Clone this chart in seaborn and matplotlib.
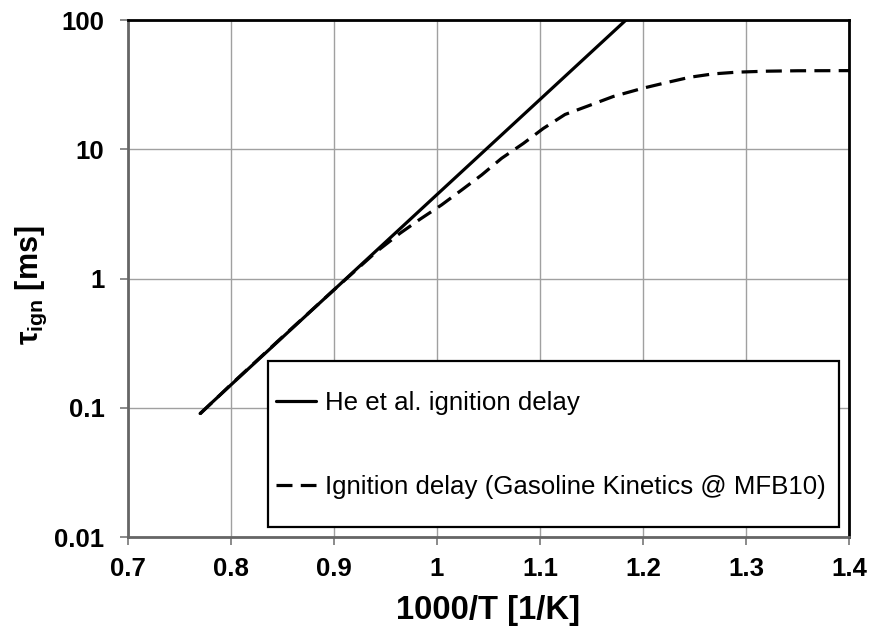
import matplotlib
matplotlib.use("Agg")
import matplotlib.pyplot as plt
import seaborn as sns
import pandas as pd
from matplotlib.patches import Rectangle
from matplotlib.ticker import FixedLocator, FixedFormatter, NullLocator

# ---- data ----
he_x = [0.77, 0.80, 0.90, 1.00, 1.10, 1.1835]
he_y = [0.0906, 0.151, 0.82, 4.47, 24.3, 100.0]

kin_x = [0.77, 0.80, 0.85, 0.90, 0.9414, 0.964, 0.9835, 1.0045, 1.024, 1.0434,
         1.0628, 1.0838, 1.1032, 1.1243, 1.147, 1.171, 1.20, 1.2227, 1.2456,
         1.268, 1.291, 1.32, 1.35, 1.40]
kin_y = [0.090, 0.152, 0.355, 0.82, 1.62, 2.24, 2.88, 3.72, 4.85, 6.34,
         8.53, 11.1, 14.5, 18.6, 21.7, 25.6, 29.7, 32.8, 36.1,
         38.3, 39.5, 40.2, 40.5, 40.6]

x_ticks = [0.7, 0.8, 0.9, 1.0, 1.1, 1.2, 1.3, 1.4]
x_tick_labels = ["0.7", "0.8", "0.9", "1", "1.1", "1.2", "1.3", "1.4"]
y_ticks = [0.01, 0.1, 1, 10, 100]
y_tick_labels = ["0.01", "0.1", "1", "10", "100"]

label_he = "He et al. ignition delay"
label_kin = "Ignition delay (Gasoline Kinetics @ MFB10)"

df_he = pd.DataFrame({"x": he_x, "y": he_y})
df_kin = pd.DataFrame({"x": kin_x, "y": kin_y})

sns.set_theme(style="white")
plt.rcParams["font.family"] = ["Liberation Sans", "DejaVu Sans"]
plt.rcParams["text.color"] = "black"
plt.rcParams["axes.labelcolor"] = "black"
plt.rcParams["mathtext.fontset"] = "custom"
plt.rcParams["mathtext.rm"] = "Liberation Sans:bold"
plt.rcParams["mathtext.it"] = "Liberation Sans:bold"
plt.rcParams["mathtext.bf"] = "Liberation Sans:bold"

fig = plt.figure(figsize=(8.74, 6.30), dpi=100)
ax = fig.add_axes([128 / 874, 1 - 537.3 / 630, (849 - 128) / 874, (537.3 - 20) / 630])

sns.lineplot(data=df_he, x="x", y="y", ax=ax, color="black", lw=2.3,
             sort=False, label=label_he)
sns.lineplot(data=df_kin, x="x", y="y", ax=ax, color="black", lw=2.3,
             sort=False, linestyle=(0, (5, 2.6)), label=label_kin)

ax.set_yscale("log")
ax.set_xlim(0.7, 1.4)
ax.set_ylim(0.01, 100)

ax.xaxis.set_major_locator(FixedLocator(x_ticks))
ax.xaxis.set_major_formatter(FixedFormatter(x_tick_labels))
ax.yaxis.set_major_locator(FixedLocator(y_ticks))
ax.yaxis.set_major_formatter(FixedFormatter(y_tick_labels))
ax.yaxis.set_minor_locator(NullLocator())
ax.xaxis.set_minor_locator(NullLocator())

ax.grid(True, which="major", color="#a0a0a0", lw=1.0)
ax.set_axisbelow(True)

for s in ["top", "right"]:
    ax.spines[s].set_color("black")
    ax.spines[s].set_linewidth(2.0)
for s in ["left", "bottom"]:
    ax.spines[s].set_color("#666666")
    ax.spines[s].set_linewidth(2.0)

ax.tick_params(axis="both", which="major", direction="out", length=6, width=1.2,
               color="#777777", labelsize=18.5, labelcolor="black")
ax.tick_params(axis="x", pad=8, bottom=True)
ax.tick_params(axis="y", pad=11, left=True)
for lab in ax.get_xticklabels() + ax.get_yticklabels():
    lab.set_fontweight("bold")

ax.set_xlabel("1000/T [1/K]", fontsize=23.6, fontweight="bold", labelpad=10,
              color="black")
ax.set_ylabel(r"$\tau_{\mathrm{ign}}$ [ms]", fontsize=22, fontweight="bold",
              labelpad=4, color="black")
ax.yaxis.label.set_y(0.488)

# legend frame drawn as a rectangle, legend content placed inside
frame = Rectangle((0.1938, 0.0193), 0.7928, 0.3215, transform=ax.transAxes,
                  facecolor="white", edgecolor="black", lw=1.6, zorder=4)
ax.add_patch(frame)
leg = ax.legend(loc="center left", bbox_to_anchor=(0.2053, 0.1786),
                fontsize=18.6, frameon=False, handlelength=1.54,
                handletextpad=0.35, labelspacing=2.3,
                borderpad=0, borderaxespad=0, labelcolor="black")
leg.set_zorder(5)

fig.savefig("out.png", dpi=100)
